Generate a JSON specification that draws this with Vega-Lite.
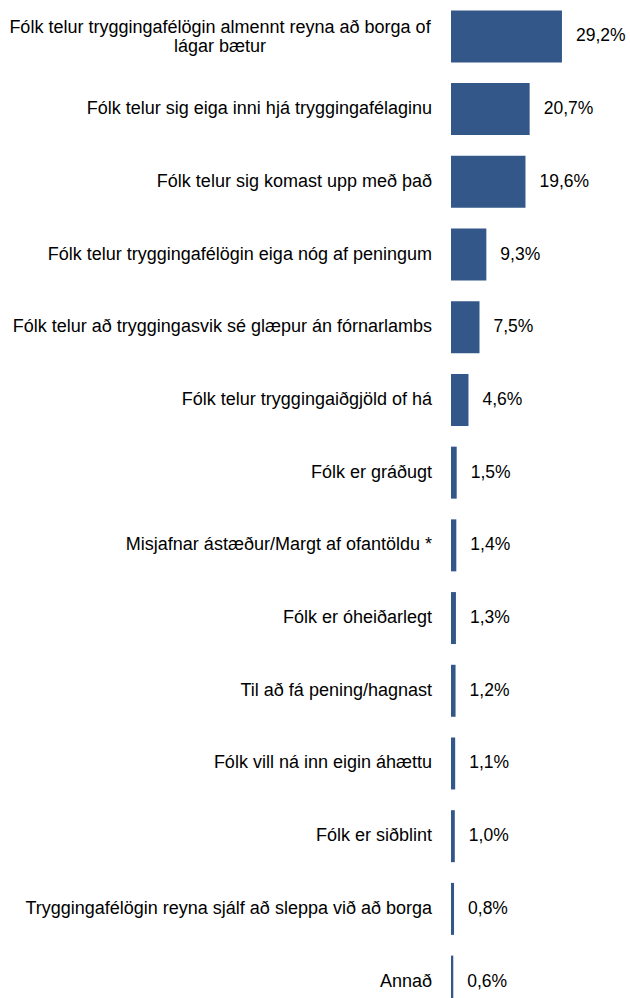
{
  "$schema": "https://vega.github.io/schema/vega-lite/v6.json",
  "width": 114,
  "height": 998,
  "autosize": {"type": "none"},
  "padding": {"left": 451, "top": 0, "right": 65, "bottom": 0},
  "background": "white",
  "config": {
    "view": {"stroke": null},
    "locale": {"number": {"decimal": ",", "thousands": ".", "grouping": [3], "currency": ["", " kr."]}},
    "text": {"font": "Liberation Sans", "fontSize": 18, "color": "#000000"}
  },
  "data": {
    "values": [
      {"cat": "Fólk telur tryggingafélögin almennt reyna að borga of lágar bætur", "lines": ["Fólk telur tryggingafélögin almennt reyna að borga of", "lágar bætur"], "v": 0.292},
      {"cat": "Fólk telur sig eiga inni hjá tryggingafélaginu", "lines": "Fólk telur sig eiga inni hjá tryggingafélaginu", "v": 0.207},
      {"cat": "Fólk telur sig komast upp með það", "lines": "Fólk telur sig komast upp með það", "v": 0.196},
      {"cat": "Fólk telur tryggingafélögin eiga nóg af peningum", "lines": "Fólk telur tryggingafélögin eiga nóg af peningum", "v": 0.093},
      {"cat": "Fólk telur að tryggingasvik sé glæpur án fórnarlambs", "lines": "Fólk telur að tryggingasvik sé glæpur án fórnarlambs", "v": 0.075},
      {"cat": "Fólk telur tryggingaiðgjöld of há", "lines": "Fólk telur tryggingaiðgjöld of há", "v": 0.046},
      {"cat": "Fólk er gráðugt", "lines": "Fólk er gráðugt", "v": 0.015},
      {"cat": "Misjafnar ástæður/Margt af ofantöldu *", "lines": "Misjafnar ástæður/Margt af ofantöldu *", "v": 0.014},
      {"cat": "Fólk er óheiðarlegt", "lines": "Fólk er óheiðarlegt", "v": 0.013},
      {"cat": "Til að fá pening/hagnast", "lines": "Til að fá pening/hagnast", "v": 0.012},
      {"cat": "Fólk vill ná inn eigin áhættu", "lines": "Fólk vill ná inn eigin áhættu", "v": 0.011},
      {"cat": "Fólk er siðblint", "lines": "Fólk er siðblint", "v": 0.010},
      {"cat": "Tryggingafélögin reyna sjálf að sleppa við að borga", "lines": "Tryggingafélögin reyna sjálf að sleppa við að borga", "v": 0.008},
      {"cat": "Annað", "lines": "Annað", "v": 0.006}
    ]
  },
  "encoding": {
    "y": {
      "field": "cat",
      "type": "nominal",
      "sort": null,
      "axis": null,
      "scale": {"range": [0, 1018], "paddingInner": 0.285, "paddingOuter": 0.143}
    }
  },
  "layer": [
    {
      "mark": {"type": "bar", "color": "#34578a"},
      "encoding": {
        "x": {"field": "v", "type": "quantitative", "axis": null, "scale": {"domain": [0, 0.3], "nice": false}}
      }
    },
    {
      "mark": {"type": "text", "align": "left", "baseline": "middle", "dx": 14, "fontSize": 17.5},
      "encoding": {
        "x": {"field": "v", "type": "quantitative"},
        "text": {"field": "v", "type": "quantitative", "format": ".1%"}
      }
    },
    {
      "transform": [{"filter": "!isArray(datum.lines)"}],
      "mark": {"type": "text", "align": "right", "baseline": "middle", "dx": -19},
      "encoding": {
        "x": {"datum": 0},
        "text": {"field": "lines"}
      }
    },
    {
      "transform": [{"filter": "isArray(datum.lines)"}],
      "mark": {"type": "text", "align": "center", "baseline": "middle", "dx": -231, "dy": -8, "lineHeight": 19},
      "encoding": {
        "x": {"datum": 0},
        "text": {"field": "lines"}
      }
    }
  ]
}
